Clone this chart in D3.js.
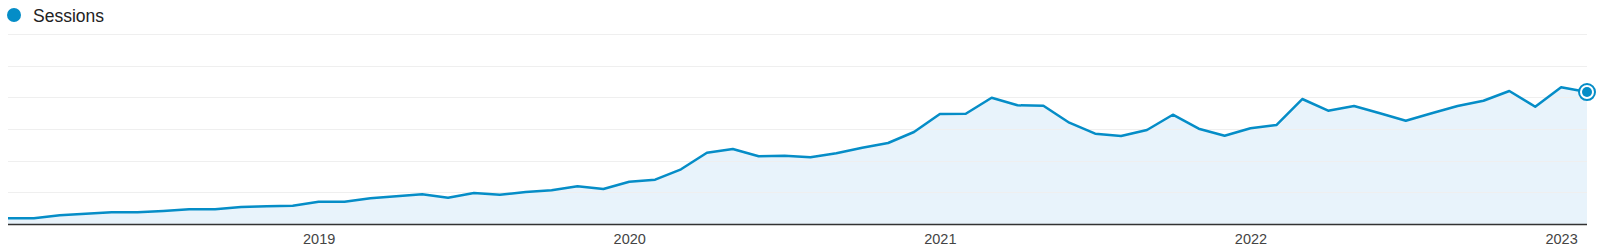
<!DOCTYPE html>
<html>
<head>
<meta charset="utf-8">
<script src="https://cdn.jsdelivr.net/npm/d3@7"></script>
<style>
  body { margin: 0; background: #fff; }
  svg { display: block; font-family: Arial, "Liberation Sans", sans-serif; }
</style>
</head>
<body>
<div id="chart"></div>
<script>
// monthly sessions, Jan 2018 .. Feb 2023
const months = d3.timeMonths(new Date(2018, 0, 1), new Date(2023, 2, 1));
const sessions = [
  180, 180, 275, 325, 370, 370, 410, 464, 464, 537, 559, 578,
  704, 704, 811, 875, 938, 830, 979, 925, 1010, 1064, 1190, 1105,
  1336, 1399, 1727, 2251, 2368, 2138, 2157, 2106, 2232, 2409, 2558, 2905,
  3473, 3483, 3988, 3748, 3735, 3199, 2851, 2779, 2968, 3451, 3009, 2788,
  3022, 3126, 3947, 3578, 3726, 3495, 3262, 3495, 3726, 3893, 4200, 3704,
  4316, 4168
];
const gridValues = [1000, 2000, 3000, 4000, 5000, 6000];
const yearLabels = ['2019', '2020', '2021', '2022', '2023'];
const seriesName = 'Sessions';

const data = months.map((m, i) => ({ date: m, value: sessions[i] }));

const width = 1600;
const height = 248;
// plot box
const plotLeft = 8;
const plotRight = 1587;
const plotTop = 34;
const plotBottom = 224;

const svg = d3.select('#chart')
  .append('svg')
  .attr('width', width)
  .attr('height', height);

// months as evenly spaced points, like the original
const x = d3.scalePoint()
  .domain(data.map(d => +d.date))
  .range([plotLeft, plotRight]);

const y = d3.scaleLinear()
  .domain([0, 6000])
  .range([plotBottom, plotTop]);

const blue = '#058dc7';

// area under the line
const area = d3.area()
  .x(d => x(+d.date))
  .y0(y(0))
  .y1(d => y(d.value));

svg.append('path')
  .datum(data)
  .attr('d', area)
  .attr('fill', '#e8f3fb');

// horizontal gridlines
svg.append('g')
  .selectAll('line')
  .data(gridValues)
  .join('line')
  .attr('x1', plotLeft)
  .attr('x2', plotRight)
  .attr('y1', d => Math.round(y(d)) + 0.5)
  .attr('y2', d => Math.round(y(d)) + 0.5)
  .attr('stroke', '#efefef')
  .attr('stroke-width', 1);

// the line itself
const line = d3.line()
  .x(d => x(+d.date))
  .y(d => y(d.value));

svg.append('path')
  .datum(data)
  .attr('d', line)
  .attr('fill', 'none')
  .attr('stroke', blue)
  .attr('stroke-width', 2.5)
  .attr('stroke-linejoin', 'round');

// x axis: one label per January
const januaries = data.filter(d => d.date.getMonth() === 0 && d.date.getFullYear() > 2018);
const xAxis = d3.axisBottom(x)
  .tickValues(januaries.map(d => +d.date))
  .tickFormat((d, i) => yearLabels[i])
  .tickSize(0)
  .tickPadding(10);

const gx = svg.append('g')
  .attr('transform', `translate(0, ${plotBottom})`)
  .call(xAxis);

gx.select('.domain')
  .attr('d', `M${plotLeft},0.5H${plotRight}`)
  .attr('stroke', '#333')
  .attr('stroke-width', 1.5);

gx.selectAll('text')
  .attr('fill', '#444')
  .style('font-size', '14.5px')
  .style('font-family', 'Arial, "Liberation Sans", sans-serif');

// highlighted last point
const last = data[data.length - 1];
svg.append('circle')
  .attr('cx', x(+last.date))
  .attr('cy', y(last.value))
  .attr('r', 8)
  .attr('fill', '#fff')
  .attr('stroke', blue)
  .attr('stroke-width', 2);
svg.append('circle')
  .attr('cx', x(+last.date))
  .attr('cy', y(last.value))
  .attr('r', 5)
  .attr('fill', blue);

// legend
const legend = svg.append('g').attr('class', 'legend');
legend.append('circle')
  .attr('cx', 14)
  .attr('cy', 15)
  .attr('r', 7)
  .attr('fill', blue);
legend.append('text')
  .attr('x', 33)
  .attr('y', 22)
  .attr('fill', '#222')
  .style('font-size', '17.5px')
  .text(seriesName);
</script>
</body>
</html>
